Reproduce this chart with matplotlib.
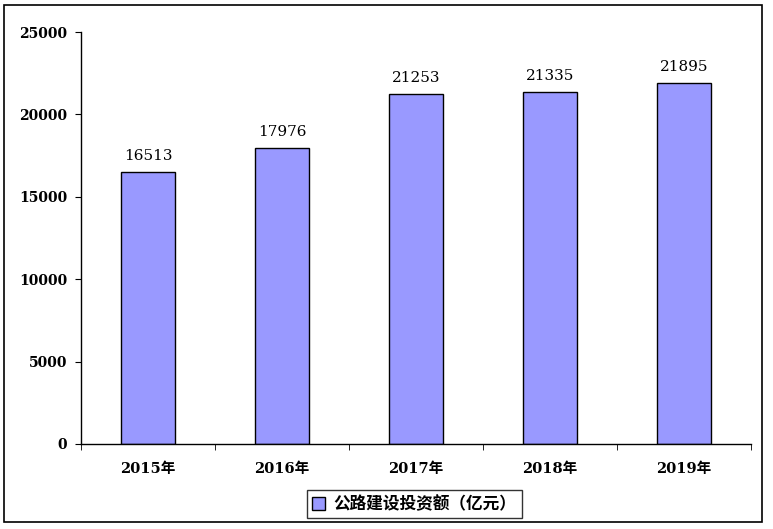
import matplotlib
matplotlib.use('Agg')
from matplotlib import pyplot as plt
from matplotlib.patches import Rectangle

plt.rcParams['font.family'] = ['DejaVu Serif', 'Noto Sans CJK SC']

años = ['2015年', '2016年', '2017年', '2018年', '2019年']
inversion = [16513, 17976, 21253, 21335, 21895]
ticks_y = [0, 5000, 10000, 15000, 20000, 25000]
etiqueta = '公路建设投资额（亿元）'

fig = plt.figure(figsize=(7.73, 5.29), dpi=100)
ax = fig.add_axes([0.1048, 0.1607, 0.8667, 0.7788])

posiciones = range(len(años))
barras = ax.bar(posiciones, inversion, width=0.41, color='#9999FF',
                edgecolor='black', linewidth=1, label=etiqueta)
for x, v in zip(posiciones, inversion):
    ax.text(x, v + 550, str(v), ha='center', va='bottom', fontsize=11)

ax.set_xlim(-0.5, len(años) - 0.5)
ax.set_ylim(0, 25000)
ax.set_yticks(ticks_y)
ax.set_yticklabels([str(t) for t in ticks_y], fontsize=10, fontweight='bold')
ax.set_xticks(posiciones)
ax.set_xticklabels(años, fontsize=10.5, fontweight='bold')
ax.tick_params(axis='x', length=0, pad=13)
ax.tick_params(axis='y', length=4, direction='out', pad=6)
# marcas entre categorías
ax.set_xticks([p + 0.5 for p in range(-1, len(años))], minor=True)
ax.tick_params(axis='x', which='minor', length=4, direction='out')

for lado in ['top', 'right']:
    ax.spines[lado].set_visible(False)
ax.spines['left'].set_linewidth(1)
ax.spines['bottom'].set_linewidth(1)

leg = fig.legend(handles=[barras], labels=[etiqueta], loc='center',
                 bbox_to_anchor=(0.536, 0.0473), frameon=True, fancybox=False,
                 edgecolor='black', handlelength=0.8, handleheight=0.8,
                 handletextpad=0.5, borderpad=0.3,
                 prop={'family': ['Noto Sans CJK SC'], 'weight': 'bold', 'size': 12})
leg.get_frame().set_linewidth(1)

fig.patches.append(Rectangle((0.005, 0.013), 0.981, 0.977, transform=fig.transFigure,
                             fill=False, edgecolor='black', linewidth=1.2))

fig.savefig('out.png', dpi=100)
